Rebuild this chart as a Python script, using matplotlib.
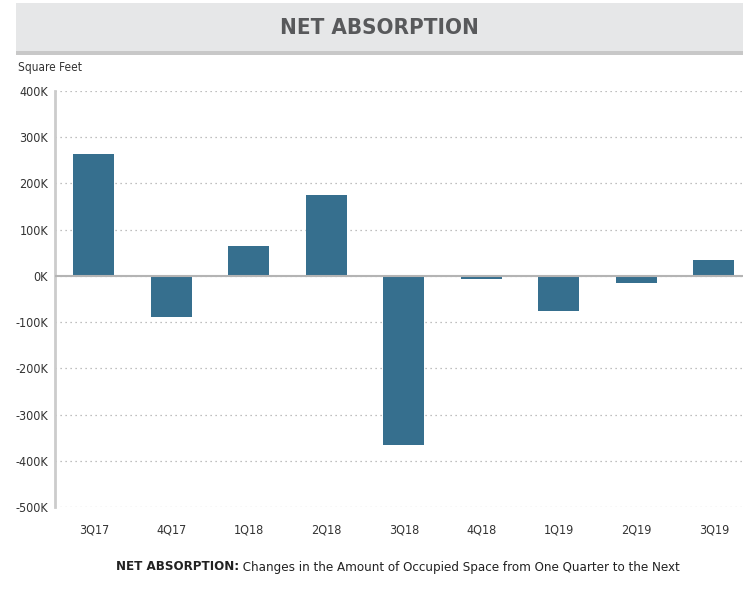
import matplotlib.pyplot as plt
from matplotlib.patches import Rectangle
from matplotlib.ticker import FuncFormatter

quarters = ["3Q17", "4Q17", "1Q18", "2Q18", "3Q18", "4Q18", "1Q19", "2Q19", "3Q19"]
absorption = [264000, -89000, 65000, 175000, -366000, -7000, -76000, -16000, 34000]
yticks = [-500000, -400000, -300000, -200000, -100000, 0, 100000, 200000, 300000, 400000]

plt.rcParams['font.family'] = ['DejaVu Sans']
plt.rcParams['font.stretch'] = 'condensed'

fig = plt.figure(figsize=(7.43, 5.96), dpi=100)

# title band
fig.patches.append(Rectangle((16/743, 1-51/596), 1-16/743, 48/596, transform=fig.transFigure,
                             facecolor='#e6e7e8', edgecolor='none'))
fig.patches.append(Rectangle((16/743, 1-55/596), 1-16/743, 4/596, transform=fig.transFigure,
                             facecolor='#c8c8c8', edgecolor='none'))
fig.text((16+743)/2/743, 1-28/596, "NET ABSORPTION", ha='center', va='center',
         fontsize=16, fontweight='bold', color='#58595b')
fig.text(18/743, 1-68/596, "Square Feet", ha='left', va='center', fontsize=8.5, color='#333333')

ax = fig.add_axes([55/743, 1-507/596, 1-55/743, (507-91)/596])
ax.bar(range(len(quarters)), absorption, width=0.53, color='#366f8e', zorder=3)
ax.axhline(0, color='#b4b4b4', linewidth=1.5, zorder=4)

ax.set_xlim(-0.5, 8.377)
ax.set_ylim(-500000, 400000)
ax.set_yticks(yticks)
ax.yaxis.set_major_formatter(FuncFormatter(lambda v, p: f"{int(v/1000)}K"))
ax.set_xticks(range(len(quarters)))
ax.set_xticklabels(quarters)
ax.tick_params(axis='both', length=0, labelsize=9, colors='#333333')
ax.tick_params(axis='x', pad=12)
ax.tick_params(axis='y', pad=5)
ax.grid(axis='y', linestyle=(0, (1, 3)), color='#aaaaaa', linewidth=0.9, zorder=0)

for s in ['top', 'right', 'bottom']:
    ax.spines[s].set_visible(False)
ax.spines['left'].set_color('#cccccc')
ax.spines['left'].set_linewidth(2)

# caption: bold lead-in + normal text, centred together
cy = 1 - 567/596
t1 = fig.text(0, cy, "NET ABSORPTION:", ha='left', va='center',
              fontsize=9.5, fontweight='bold', color='#222222')
t2 = fig.text(0, cy, " Changes in the Amount of Occupied Space from One Quarter to the Next",
              ha='left', va='center', fontsize=9.5, color='#222222')
r = fig.canvas.get_renderer()
w1 = t1.get_window_extent(r).width / fig.bbox.width
w2 = t2.get_window_extent(r).width / fig.bbox.width
x0 = 398/743 - (w1 + w2) / 2
t1.set_x(x0)
t2.set_x(x0 + w1)

fig.savefig("out.png", dpi=100)
